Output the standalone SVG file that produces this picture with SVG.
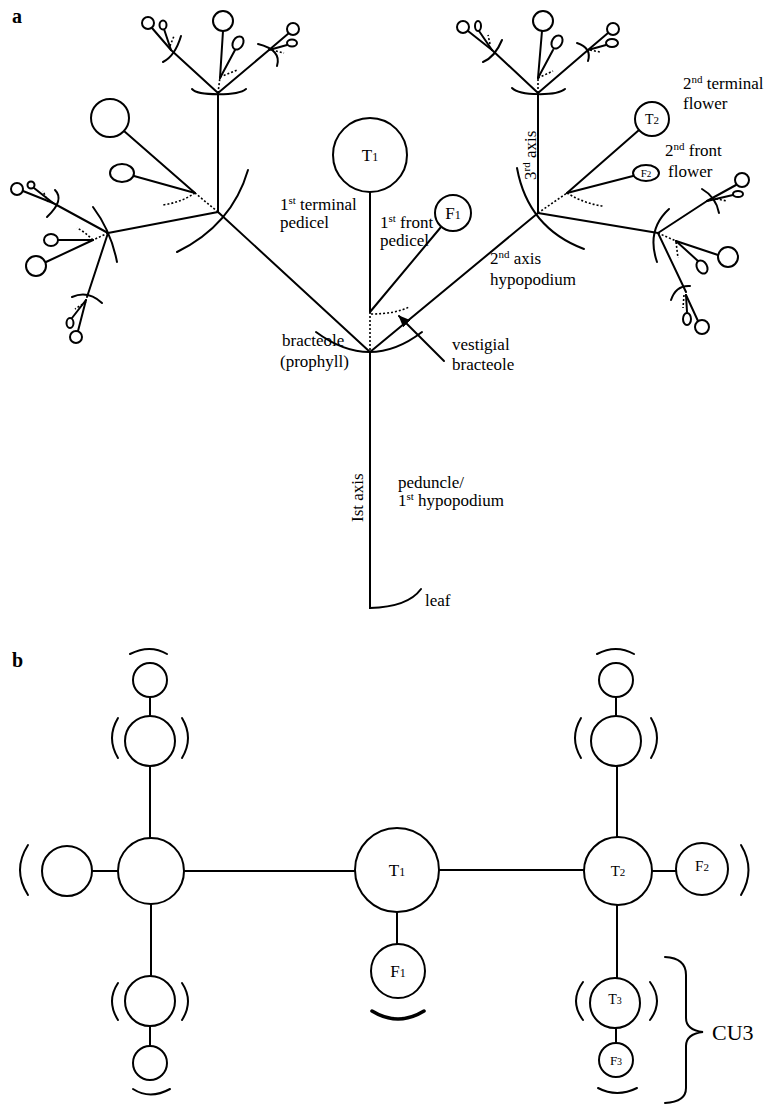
<svg xmlns="http://www.w3.org/2000/svg" width="765" height="1107" viewBox="0 0 765 1107">
<style>
.l{fill:none;stroke:#000;stroke-width:2;stroke-linecap:round}
.d{fill:none;stroke:#000;stroke-width:1.6;stroke-dasharray:2 2}
.c{fill:#fff;stroke:#000;stroke-width:2}
.t{font-family:"Liberation Serif",serif;font-size:17px;fill:#000}
.s{font-size:11px}
.b{font-family:"Liberation Serif",serif;font-size:20px;font-weight:bold;fill:#000}
</style>
<defs>
<marker id="ah" markerWidth="12" markerHeight="10" refX="11" refY="5" orient="auto" markerUnits="userSpaceOnUse">
<path d="M0,0 L12,5 L0,10 Z" fill="#000"/>
</marker>
</defs>
<rect width="765" height="1107" fill="#fff"/>
<text class="b" x="12" y="23">a</text>
<text class="b" x="12" y="667">b</text>

<g id="connectors">
<path class="l" d="M370,192 V312"/>
<path class="d" d="M370,312 V352"/>
<path class="l" d="M370,352 V608 Q408,607 421,589"/>
<path class="l" d="M370,312 L441,227"/>
<path class="l" d="M370,352 L538,213"/>
<path class="l" d="M370,352 L218,212"/>
<path class="l" d="M316,332 Q370,372 422,332"/>
<path class="d" d="M371,314 Q395,314 409,307"/>
<path class="l" d="M444,361 L399,316" marker-end="url(#ah)"/>
<path class="l" d="M538,213 V93"/>
<path class="d" d="M538,213 L567,193"/>
<path class="l" d="M567,193 L639,130"/>
<path class="l" d="M567,193 L633,176"/>
<path class="d" d="M567,193 Q585,204 603,206"/>
<path class="l" d="M517,168 Q528,228 584,249"/>
<path class="l" d="M538,213 L658,233"/>
<path class="l" d="M669,209 Q646,230 657,262"/>
<path class="l" d="M658,233 L707,201"/>
<path class="l" d="M702,189 Q716,197 719,213"/>
<path class="l" d="M707,201 L736,185"/>
<path class="l" d="M707,201 L733,195"/>
<path class="d" d="M712,198 L727,201"/>
<path class="d" d="M658,233 L676,241"/>
<path class="l" d="M676,241 L718,255"/>
<path class="d" d="M676,242 L678,258"/>
<path class="l" d="M676,241 L698,261"/>
<path class="l" d="M658,233 L686,292"/>
<path class="l" d="M671,300 Q676,285 690,286"/>
<path class="d" d="M684,295 L683,308"/>
<path class="l" d="M686,295 L687,312"/>
<path class="l" d="M686,295 L698,321"/>
<path class="l" d="M218,212 V93"/>
<path class="l" d="M248,170 Q232,225 177,252"/>
<path class="d" d="M218,212 L195,193"/>
<path class="l" d="M195,193 L124,131"/>
<path class="l" d="M195,193 L134,176"/>
<path class="d" d="M195,193 Q180,203 162,205"/>
<path class="l" d="M218,212 L108,233"/>
<path class="l" d="M93,207 Q111,231 117,262"/>
<path class="d" d="M108,233 L93,240"/>
<path class="l" d="M93,240 L58,240"/>
<path class="l" d="M93,240 L46,262"/>
<path class="d" d="M93,240 Q85,232 77,228"/>
<path class="l" d="M108,233 L53,203"/>
<path class="l" d="M55,190 Q65,200 47,217"/>
<path class="l" d="M53,203 L23,191"/>
<path class="l" d="M53,203 L34,188"/>
<path class="d" d="M48,202 L43,191"/>
<path class="l" d="M108,233 L87,297"/>
<path class="l" d="M72,297 Q88,290 102,303"/>
<path class="d" d="M86,302 L75,309"/>
<path class="l" d="M86,300 L72,318"/>
<path class="l" d="M86,300 L78,331"/>
<path class="l" d="M192,89 C198,96 238,96 246,89"/>
<path class="d" d="M218,93 L220,77"/>
<path class="l" d="M220,78 L223,31"/>
<path class="l" d="M220,78 L235,50"/>
<path class="d" d="M220,77 L237,70"/>
<path class="l" d="M218,93 L171,50"/>
<path class="l" d="M181,36 Q175,56 163,62"/>
<path class="l" d="M171,50 L152,28"/>
<path class="l" d="M171,50 L164,29"/>
<path class="d" d="M170,46 L174,36"/>
<path class="l" d="M218,93 L269,50"/>
<path class="l" d="M258,44 Q282,50 277,66"/>
<path class="l" d="M269,50 L289,33"/>
<path class="l" d="M269,50 L287,45"/>
<path class="d" d="M272,50 L284,53"/>
<path class="l" d="M512,88 C520,96 557,96 565,89"/>
<path class="d" d="M538,93 L538,78"/>
<path class="l" d="M538,78 L542,31"/>
<path class="l" d="M538,78 L553,50"/>
<path class="d" d="M538,78 L553,71"/>
<path class="l" d="M538,93 L492,50"/>
<path class="l" d="M502,40 Q495,57 483,62"/>
<path class="l" d="M492,50 L468,31"/>
<path class="l" d="M492,50 L479,31"/>
<path class="d" d="M490,44 L488,35"/>
<path class="l" d="M538,93 L588,50"/>
<path class="l" d="M577,43 Q592,48 588,61"/>
<path class="l" d="M588,50 L608,33"/>
<path class="l" d="M588,50 L606,45"/>
<path class="d" d="M590,50 L600,52"/>
<path class="l" d="M150,697 V716"/>
<path class="l" d="M150,766 V838"/>
<path class="l" d="M92,871 H118"/>
<path class="l" d="M184,871 H355"/>
<path class="l" d="M151,904 V976"/>
<path class="l" d="M150,1026 V1046"/>
<path class="l" d="M439,870 H584"/>
<path class="l" d="M397,912 V944"/>
<path class="l" d="M617,837 V766"/>
<path class="l" d="M616,716 V697"/>
<path class="l" d="M652,871 H676"/>
<path class="l" d="M617,905 V978"/>
<path class="l" d="M616,1028 V1043"/>
</g>

<g id="bracts-b">
<path class="l" d="M130,654 Q150,644 167,654"/>
<path class="l" d="M118,718 Q106,738 118,758"/>
<path class="l" d="M182,718 Q194,738 182,758"/>
<path class="l" d="M28,845 Q12,870 28,895"/>
<path class="l" d="M118,983 Q106,1001 118,1020"/>
<path class="l" d="M182,983 Q194,1001 182,1020"/>
<path class="l" d="M133,1089 Q150,1100 170,1089"/>
<path d="M372,1011 Q398,1027 424,1011" fill="none" stroke="#000" stroke-width="3.5" stroke-linecap="round"/>
<path class="l" d="M597,654 Q616,644 634,654"/>
<path class="l" d="M581,718 Q569,738 581,758"/>
<path class="l" d="M651,718 Q663,738 651,758"/>
<path class="l" d="M741,845 Q756,870 741,895"/>
<path class="l" d="M583,982 Q569,1001 583,1020"/>
<path class="l" d="M650,982 Q664,1001 650,1020"/>
<path class="l" d="M598,1088 Q617,1098 637,1088"/>
<path class="l" d="M665,957 Q686,958 686,975 V1018 Q686,1030 703,1032 Q686,1034 686,1046 V1088 Q686,1102 665,1103"/>
</g>

<g id="T1a"><circle class="c" cx="370" cy="155" r="37"/><text class="t" x="370" y="161" text-anchor="middle">T<tspan font-size="12">1</tspan></text></g>
<g id="F1a"><circle class="c" cx="453" cy="213" r="18"/><text class="t" x="453" y="219" text-anchor="middle">F<tspan font-size="12">1</tspan></text></g>
<g id="T2a"><circle class="c" cx="652" cy="119" r="17"/><text class="t" x="652" y="124" text-anchor="middle" style="font-size:14px">T<tspan font-size="11">2</tspan></text></g>
<g id="F2a"><ellipse class="c" cx="646" cy="173" rx="13" ry="8"/><text class="t" x="646" y="177" text-anchor="middle" style="font-size:11px">F<tspan font-size="9">2</tspan></text></g>
<g id="flowers-a">
<circle class="c" cx="110" cy="118" r="19"/>
<ellipse class="c" cx="122" cy="173" rx="12" ry="9"/>
<circle class="c" cx="223" cy="21" r="10"/>
<ellipse class="c" cx="238" cy="43" rx="5" ry="7" transform="rotate(30 238 43)"/>
<circle class="c" cx="148" cy="23" r="6"/>
<ellipse class="c" cx="163" cy="25" rx="3.5" ry="4.5"/>
<circle class="c" cx="293" cy="29" r="6"/>
<ellipse class="c" cx="292" cy="43" rx="5" ry="3.5"/>
<ellipse class="c" cx="51" cy="240" rx="7" ry="6"/>
<circle class="c" cx="36" cy="266" r="10"/>
<circle class="c" cx="17" cy="189" r="6"/>
<circle class="c" cx="31" cy="185" r="3.5"/>
<ellipse class="c" cx="70" cy="323" rx="3.5" ry="5"/>
<circle class="c" cx="76" cy="337" r="6"/>
<circle class="c" cx="543" cy="21" r="10"/>
<ellipse class="c" cx="557" cy="42" rx="5" ry="7" transform="rotate(30 557 42)"/>
<circle class="c" cx="463" cy="27" r="6"/>
<ellipse class="c" cx="478" cy="26" rx="3" ry="5"/>
<circle class="c" cx="613" cy="29" r="6"/>
<ellipse class="c" cx="612" cy="43" rx="6" ry="4"/>
<circle class="c" cx="742" cy="180" r="7"/>
<ellipse class="c" cx="738" cy="194" rx="5" ry="3"/>
<circle class="c" cx="728" cy="257" r="10"/>
<ellipse class="c" cx="702" cy="267" rx="5" ry="7" transform="rotate(-30 702 267)"/>
<ellipse class="c" cx="687" cy="319" rx="4" ry="6"/>
<circle class="c" cx="702" cy="327" r="7"/>
</g>

<g id="labels-a">
<text class="t" x="280" y="210">1<tspan class="s" dy="-6">st</tspan><tspan dy="6"> terminal</tspan></text>
<text class="t" x="280" y="228">pedicel</text>
<text class="t" x="380" y="228">1<tspan class="s" dy="-6">st</tspan><tspan dy="6"> front</tspan></text>
<text class="t" x="380" y="246">pedicel</text>
<text class="t" x="683" y="89">2<tspan class="s" dy="-6">nd</tspan><tspan dy="6"> terminal</tspan></text>
<text class="t" x="683" y="109">flower</text>
<text class="t" x="665" y="156">2<tspan class="s" dy="-6">nd</tspan><tspan dy="6"> front</tspan></text>
<text class="t" x="668" y="177">flower</text>
<text class="t" x="490" y="264">2<tspan class="s" dy="-6">nd</tspan><tspan dy="6">  axis</tspan></text>
<text class="t" x="490" y="285">hypopodium</text>
<text class="t" transform="translate(536,180) rotate(-90)">3<tspan class="s" dy="-6">rd</tspan><tspan dy="6"> axis</tspan></text>
<text class="t" x="282" y="346">bracteole</text>
<text class="t" x="280" y="367">(prophyll)</text>
<text class="t" x="452" y="350">vestigial</text>
<text class="t" x="452" y="370">bracteole</text>
<text class="t" transform="translate(363,522) rotate(-90)">Ist axis</text>
<text class="t" x="398" y="488">peduncle/</text>
<text class="t" x="398" y="506">1<tspan class="s" dy="-6">st</tspan><tspan dy="6"> hypopodium</tspan></text>
<text class="t" x="425" y="606">leaf</text>
</g>

<g id="b-left-top2"><circle class="c" cx="150" cy="680" r="17"/></g>
<g id="b-left-top1"><circle class="c" cx="150" cy="741" r="25"/></g>
<g id="b-left-main"><circle class="c" cx="151" cy="871" r="33"/></g>
<g id="b-left-side"><circle class="c" cx="67" cy="871" r="25"/></g>
<g id="b-left-bot1"><circle class="c" cx="150" cy="1001" r="25"/></g>
<g id="b-left-bot2"><circle class="c" cx="150" cy="1063" r="17"/></g>
<g id="T1b"><circle class="c" cx="397" cy="870" r="42"/><text class="t" x="397" y="876" text-anchor="middle">T<tspan font-size="12">1</tspan></text></g>
<g id="F1b"><circle class="c" cx="398" cy="971" r="27"/><text class="t" x="398" y="977" text-anchor="middle">F<tspan font-size="12">1</tspan></text></g>
<g id="b-right-top2"><circle class="c" cx="616" cy="680" r="17"/></g>
<g id="b-right-top1"><circle class="c" cx="616" cy="741" r="25"/></g>
<g id="T2b"><circle class="c" cx="618" cy="871" r="34"/><text class="t" x="618" y="876" text-anchor="middle" style="font-size:15px">T<tspan font-size="11">2</tspan></text></g>
<g id="F2b"><circle class="c" cx="702" cy="869" r="26"/><text class="t" x="702" y="871" text-anchor="middle" style="font-size:15px">F<tspan font-size="11">2</tspan></text></g>
<g id="T3b"><circle class="c" cx="615" cy="1003" r="25"/><text class="t" x="615" y="1004" text-anchor="middle" style="font-size:14px">T<tspan font-size="10">3</tspan></text></g>
<g id="F3b"><circle class="c" cx="616" cy="1060" r="17"/><text class="t" x="616" y="1065" text-anchor="middle" style="font-size:13px">F<tspan font-size="10">3</tspan></text></g>
<g id="CU3"><text class="t" x="712" y="1040" style="font-size:22px">CU3</text></g>
</svg>
